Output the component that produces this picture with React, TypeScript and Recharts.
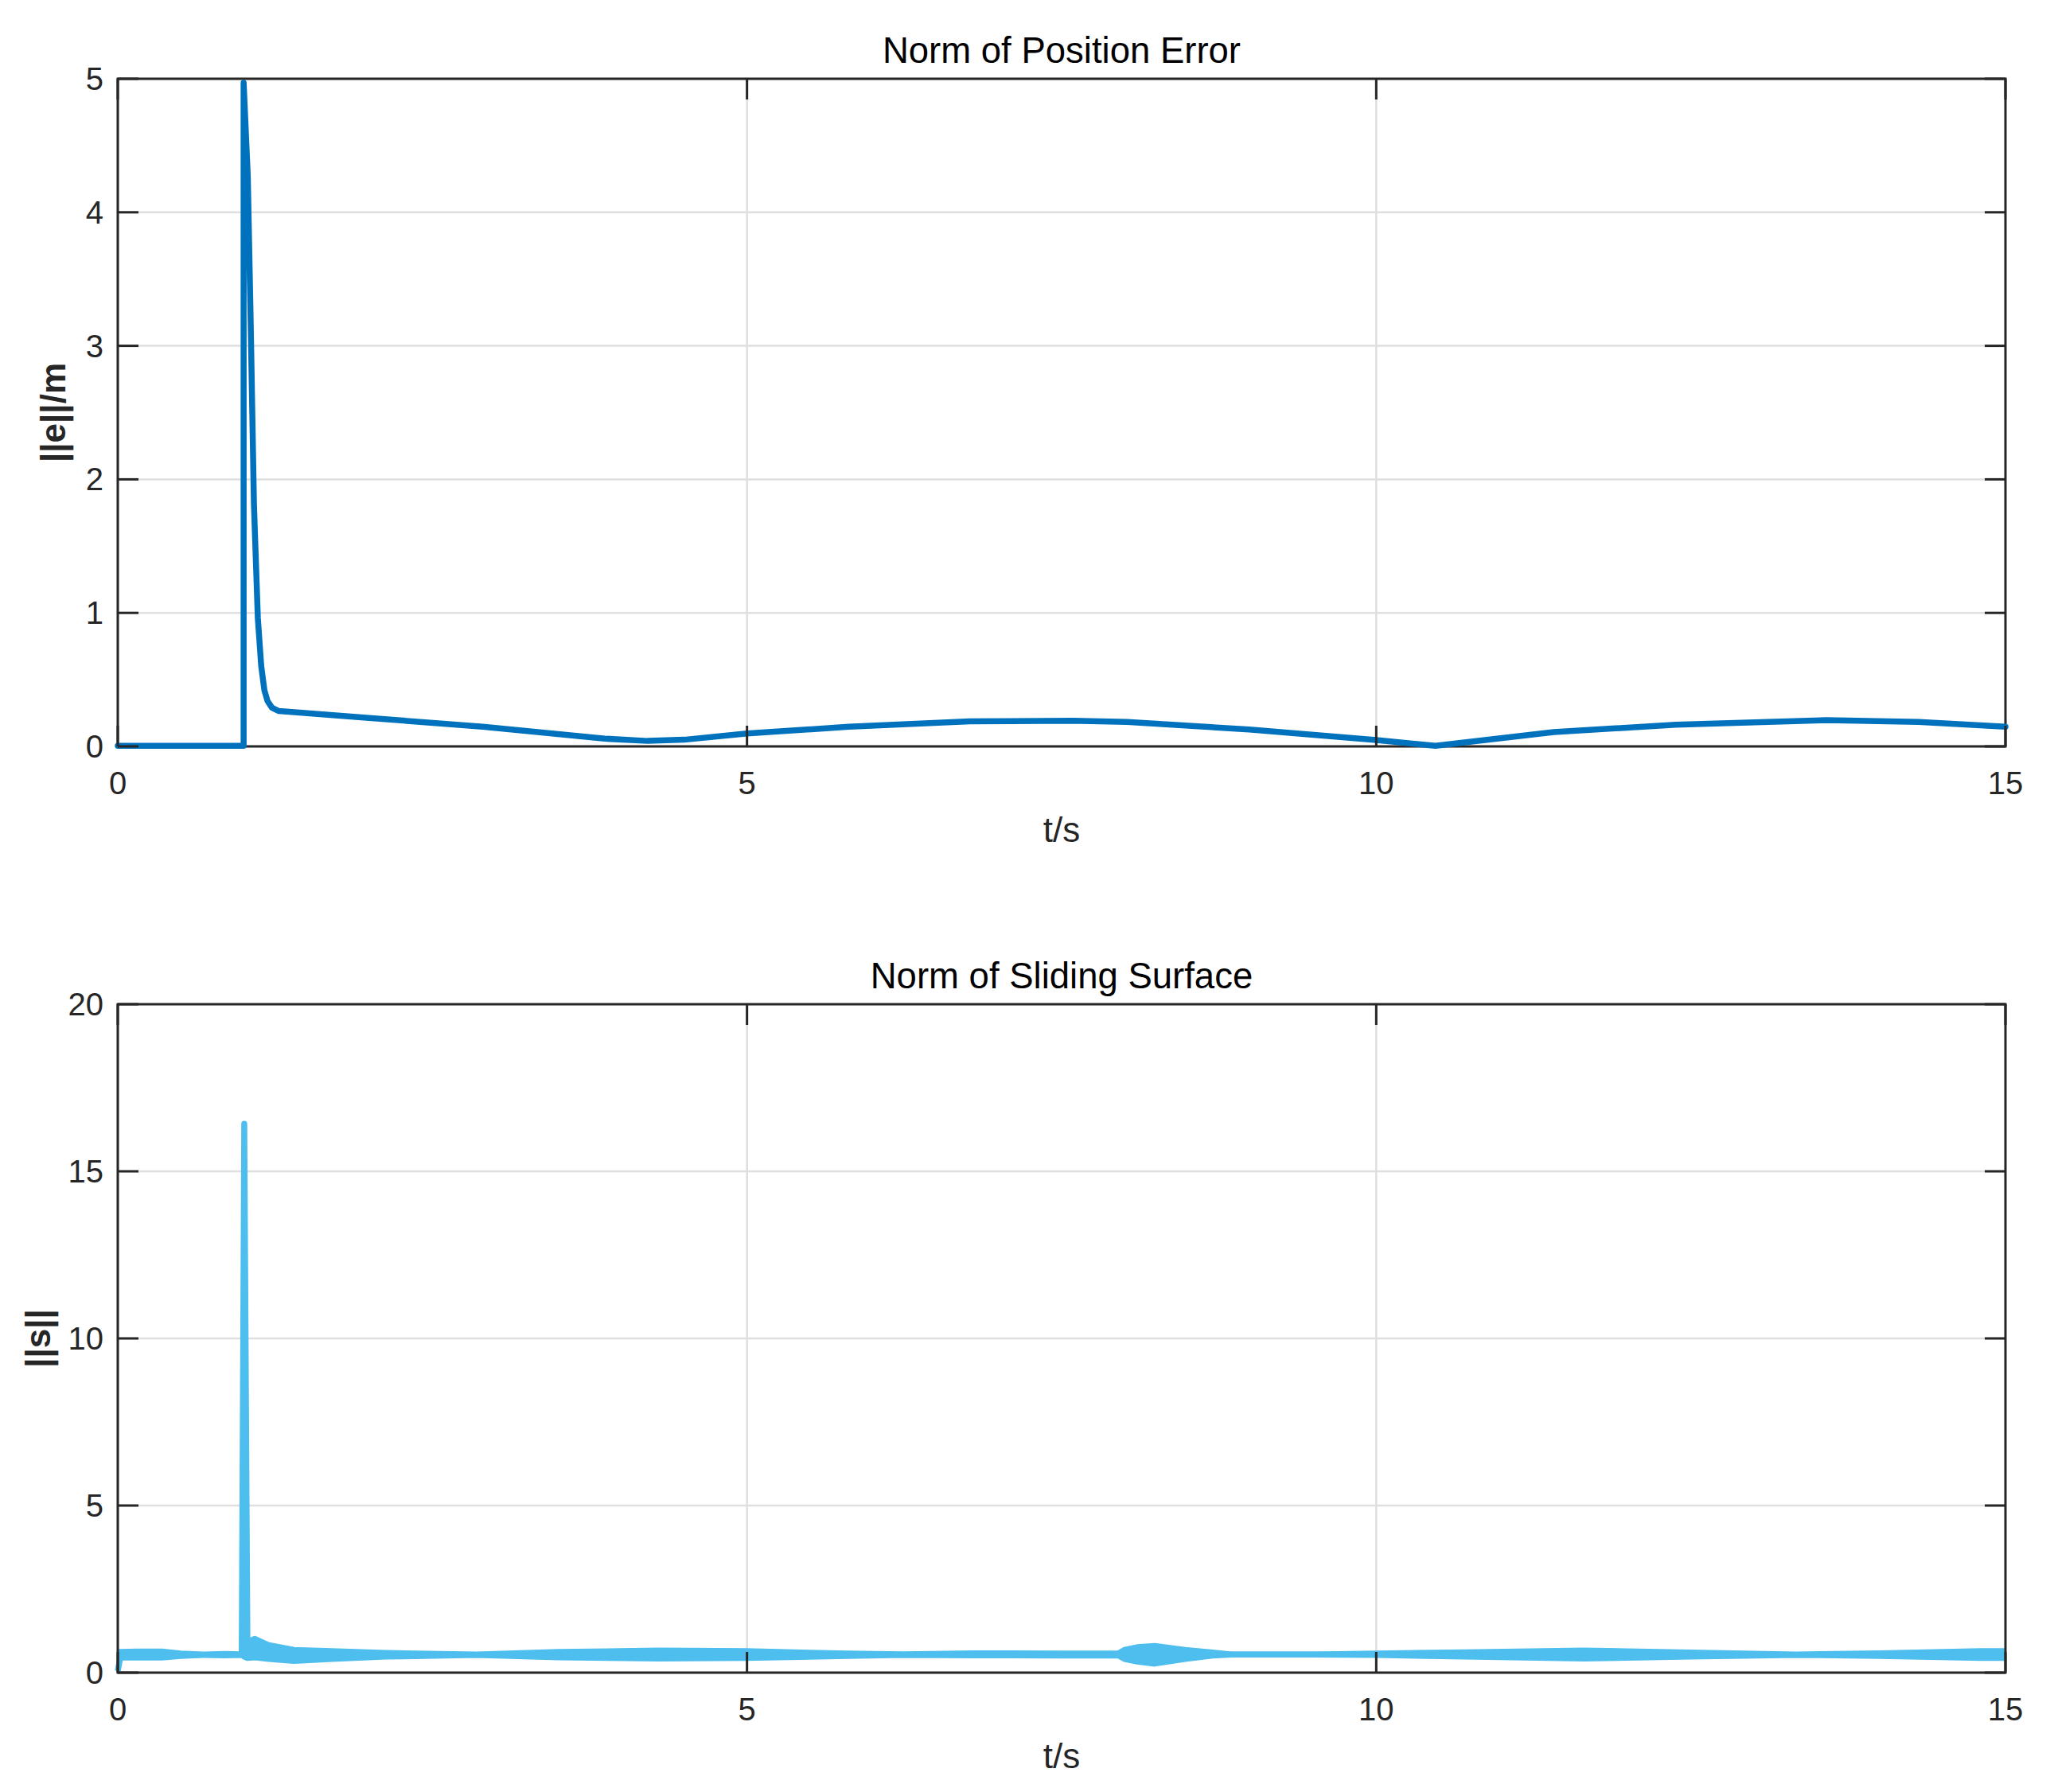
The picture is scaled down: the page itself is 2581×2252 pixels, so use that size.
import React from "react";
import {
  ComposedChart,
  Line,
  Area,
  XAxis,
  YAxis,
  CartesianGrid,
  ReferenceArea,
} from "recharts";

// time axis ticks shared by both panels
const xTicks = [0, 5, 10, 15];
const errTicks = [0, 1, 2, 3, 4, 5];
const surfTicks = [0, 5, 10, 15, 20];

// ||e|| (m)
const errT = [
  0, 0.5, 1.0, 1.0, 1.033, 1.056, 1.082, 1.113, 1.14, 1.165, 1.19, 1.225, 1.28,
  1.935, 2.9, 3.87, 4.21, 4.5, 5.0, 5.81, 6.77, 7.59, 8.02, 8.99, 10.0, 10.47,
  11.41, 12.38, 13.58, 14.31, 15.0,
];
const errVal = [
  0.005, 0.005, 0.005, 4.97, 4.27, 3.18, 1.81, 0.96, 0.6, 0.42, 0.34, 0.29,
  0.265, 0.218, 0.147, 0.058, 0.041, 0.05, 0.097, 0.147, 0.187, 0.192, 0.183,
  0.127, 0.048, 0.004, 0.107, 0.163, 0.197, 0.183, 0.147,
];

// ||s|| chattering band (lower / upper envelope)
const surfT = [
  0, 0.02, 0.15, 0.35, 0.5, 0.68, 0.85, 0.985, 1.005, 1.03, 1.09, 1.2, 1.4,
  1.7, 2.13, 2.85, 3.5, 4.3, 5.0, 5.8, 6.24, 6.8, 7.5, 7.95, 8.0, 8.1, 8.24,
  8.48, 8.7, 8.85, 9.5, 10.0, 10.7, 11.65, 12.5, 13.34, 14.0, 14.8, 15.0,
];
const surfLo = [
  0.05, 0.45, 0.45, 0.45, 0.5, 0.53, 0.52, 0.53, 0.48, 0.44, 0.46, 0.41, 0.35,
  0.41, 0.48, 0.53, 0.46, 0.42, 0.44, 0.5, 0.53, 0.52, 0.51, 0.52, 0.41, 0.33,
  0.27, 0.41, 0.51, 0.54, 0.54, 0.53, 0.48, 0.42, 0.48, 0.53, 0.5, 0.44, 0.44,
];
const surfHi = [
  0.62, 0.62, 0.63, 0.63, 0.57, 0.54, 0.56, 0.55, 16.42, 0.92, 1.01, 0.82,
  0.68, 0.64, 0.59, 0.54, 0.62, 0.66, 0.64, 0.57, 0.55, 0.58, 0.57, 0.57, 0.68,
  0.76, 0.8, 0.68, 0.6, 0.54, 0.54, 0.57, 0.61, 0.66, 0.6, 0.54, 0.58, 0.64,
  0.64,
];

const errData = errT.map((t, i) => ({ t, e: errVal[i] }));
const surfData = surfT.map((t, i) => ({ t, band: [surfLo[i], surfHi[i]] }));

const W = 2581;
const H = 1126;
const LEFT = 148;
const RIGHT = 2520;
const TICK = 26;
const AX = "#262626";
const FONT = "'Liberation Sans', Arial, Helvetica, sans-serif";

const yTick = (props: any) => {
  const { y, payload } = props;
  return (
    <g>
      <line x1={LEFT} x2={LEFT + TICK} y1={y} y2={y} stroke={AX} strokeWidth={3} />
      <line x1={RIGHT - TICK} x2={RIGHT} y1={y} y2={y} stroke={AX} strokeWidth={3} />
      <text
        x={LEFT - 18}
        y={y}
        textAnchor="end"
        dominantBaseline="central"
        fontSize={40}
        fill={AX}
        fontFamily={FONT}
      >
        {payload.value}
      </text>
    </g>
  );
};

const makeXTick = (top: number, bottom: number) => (props: any) => {
  const { x, payload } = props;
  return (
    <g>
      <line x1={x} x2={x} y1={bottom} y2={bottom - TICK} stroke={AX} strokeWidth={3} />
      <line x1={x} x2={x} y1={top} y2={top + TICK} stroke={AX} strokeWidth={3} />
      <text
        x={x}
        y={bottom + 46}
        textAnchor="middle"
        dominantBaseline="central"
        fontSize={40}
        fill={AX}
        fontFamily={FONT}
      >
        {payload.value}
      </text>
    </g>
  );
};

const Panel = ({
  title,
  yLabel,
  yLabelX,
  top,
  xHeight,
  yMax,
  yTicks,
  children,
}: any) => {
  const bottom = H - xHeight;
  const midX = (LEFT + RIGHT) / 2;
  return (
    <ComposedChart
      width={W}
      height={H}
      margin={{ top, right: W - RIGHT, bottom: 0, left: 0 }}
    >
      <CartesianGrid stroke="#dfdfdf" strokeWidth={2.5} />
      <XAxis
        dataKey="t"
        type="number"
        domain={[0, 15]}
        ticks={xTicks}
        interval={0}
        height={xHeight}
        axisLine={false}
        tickLine={false}
        tick={makeXTick(top, bottom)}
        allowDuplicatedCategory
      />
      <YAxis
        type="number"
        domain={[0, yMax]}
        ticks={yTicks}
        interval={0}
        width={LEFT}
        axisLine={false}
        tickLine={false}
        tick={yTick}
      />
      {children}
      <ReferenceArea
        x1={0}
        x2={15}
        y1={0}
        y2={yMax}
        fill="none"
        fillOpacity={0}
        stroke={AX}
        strokeWidth={3}
        strokeOpacity={1}
      />
      <text
        x={midX}
        y={top - 36}
        textAnchor="middle"
        dominantBaseline="central"
        fontSize={45.5}
        fill="#000"
        fontFamily={FONT}
      >
        {title}
      </text>
      <text
        x={midX}
        y={bottom + 104}
        textAnchor="middle"
        dominantBaseline="central"
        fontSize={44}
        fill={AX}
        fontFamily={FONT}
      >
        t/s
      </text>
      <text
        x={yLabelX}
        y={(top + bottom) / 2}
        transform={`rotate(-90 ${yLabelX} ${(top + bottom) / 2})`}
        textAnchor="middle"
        dominantBaseline="central"
        fontSize={44}
        fontWeight="bold"
        fill={AX}
        fontFamily={FONT}
      >
        {yLabel}
      </text>
    </ComposedChart>
  );
};

export default function App() {
  return (
    <div
      style={{
        position: "absolute",
        left: 0,
        top: 0,
        width: W,
        height: 2252,
        background: "#fff",
      }}
    >
      <Panel
        title="Norm of Position Error"
        yLabel="||e||/m"
        yLabelX={66}
        top={99}
        xHeight={188}
        yMax={5}
        yTicks={errTicks}
      >
        <Line
          data={errData}
          dataKey="e"
          type="linear"
          stroke="#0072BD"
          strokeWidth={7.5}
          strokeLinejoin="round"
          strokeLinecap="round"
          dot={false}
          activeDot={false}
          isAnimationActive={false}
        />
      </Panel>
      <Panel
        title="Norm of Sliding Surface"
        yLabel="||s||"
        yLabelX={47}
        top={136}
        xHeight={150}
        yMax={20}
        yTicks={surfTicks}
      >
        <Area
          data={surfData}
          dataKey="band"
          type="linear"
          stroke="#4DBEEE"
          strokeWidth={7.5}
          strokeLinejoin="round"
          fill="#4DBEEE"
          fillOpacity={1}
          dot={false}
          activeDot={false}
          isAnimationActive={false}
        />
      </Panel>
    </div>
  );
}
